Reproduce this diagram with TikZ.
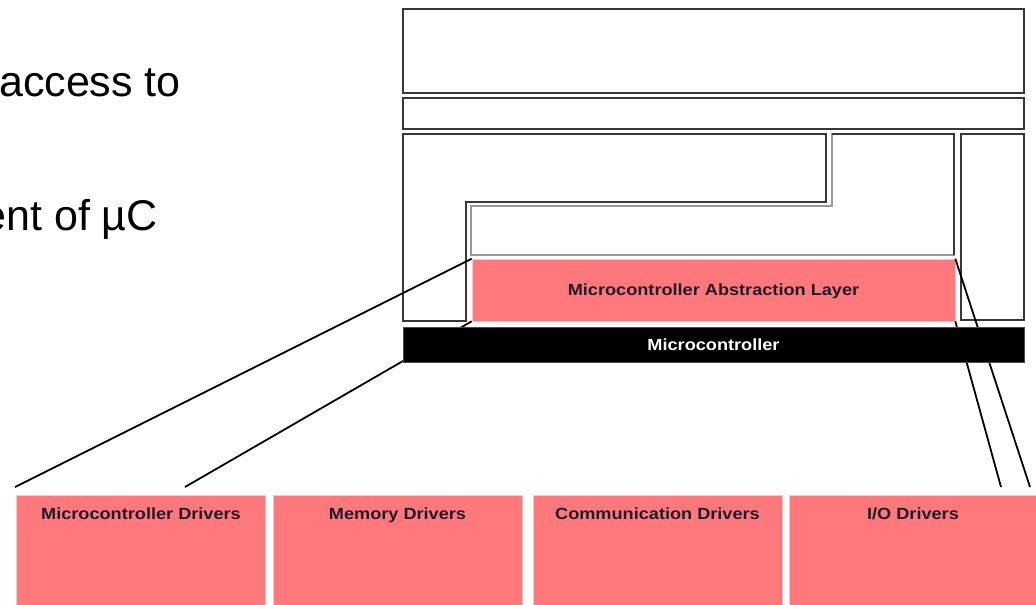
\documentclass[tikz,border=0pt]{standalone}
\usepackage{graphicx}
\usepackage{fontspec}
\setmainfont{Liberation Sans}
\newcommand{\boxtxt}[1]{\scalebox{1.12}[1]{\fontsize{16.2}{19}\selectfont\bfseries #1}}
\definecolor{mcalred}{RGB}{255,121,124}
\definecolor{lblink}{RGB}{30,28,40}
\definecolor{pinkedge}{RGB}{255,200,200}
\definecolor{frame}{RGB}{55,55,55}
\begin{document}
\begin{tikzpicture}[x=1pt,y=-1pt,
  frm/.style={draw=frame,line width=2pt,fill=white},
  redbox/.style={fill=mcalred,draw=pinkedge,line width=0.6pt,inner sep=0pt},
  boxlabel/.style={text=lblink,inner sep=0pt,anchor=base},
  zoomline/.style={draw=black,line width=1.8pt},
  bigtxt/.style={inner sep=0pt,anchor=base east,font=\fontsize{43}{50}\selectfont}
]
\useasboundingbox (0,0) rectangle (1036,605);
\clip (0,0) rectangle (1036,605);

% left slide text (cut off as in the reference)
\node[bigtxt] (t1) at (181,96) {access to};
\node[bigtxt] (t2) at (158,230) {ent of µC};

% upper layers
\node[frm,minimum width=621pt,minimum height=84pt,inner sep=0pt] (top1) at (713.5,51) {};
\node[frm,minimum width=621pt,minimum height=31pt,inner sep=0pt] (top2) at (713.5,113.5) {};
\draw[frm] (403,134) -- (826,134) -- (826,202) -- (466,202) -- (466,321) -- (403,321) -- cycle;
\draw[draw=black!40,line width=2pt,fill=white] (832,134) -- (954,134) -- (954,255) -- (471,255) -- (471,206) -- (832,206) -- cycle;
\draw[draw=frame,line width=2pt] (832,134) -- (954,134) -- (954,255);
\node[frm,minimum width=63pt,minimum height=186pt,inner sep=0pt] (cd) at (992.5,227) {};

% MCAL
\node[redbox,minimum width=483pt,minimum height=62pt,text height=11.6pt,text depth=0pt,text=lblink] (mcal) at (713.5,290) {\boxtxt{Microcontroller Abstraction Layer}};

% driver boxes
\node[redbox,minimum width=249pt,minimum height=120pt] (d1) at (140.5,555) {};
\node[redbox,minimum width=249pt,minimum height=120pt] (d2) at (397.5,555) {};
\node[redbox,minimum width=249pt,minimum height=120pt] (d3) at (657.5,555) {};
\node[redbox,minimum width=248pt,minimum height=120pt] (d4) at (913,555) {};
\node[boxlabel] (l1) at (141,519) {\boxtxt{Microcontroller Drivers}};
\node[boxlabel] (l2) at (397.5,519) {\boxtxt{Memory Drivers}};
\node[boxlabel] (l3) at (657.5,519) {\boxtxt{Communication Drivers}};
\node[boxlabel] (l4) at (913,519) {\boxtxt{I/O Drivers}};

% zoom lines
\coordinate (z1) at (15,487);
\coordinate (z2) at (185,487);
\coordinate (z3) at (1030,487);
\coordinate (z4) at (1001,487);
\draw[zoomline] (mcal.north west) -- (z1);
\draw[zoomline] (mcal.south west) -- (z2);
\draw[zoomline] (mcal.north east) -- (z3);
\draw[zoomline] (mcal.south east) -- (z4);

% microcontroller bar
\node[fill=black,draw=black!70,line width=0.8pt,minimum width=621pt,minimum height=35pt,inner sep=0pt,text height=11.6pt,text depth=0pt,text=white] (mc) at (713.5,344.5) {\boxtxt{Microcontroller}};
\end{tikzpicture}
\end{document}
